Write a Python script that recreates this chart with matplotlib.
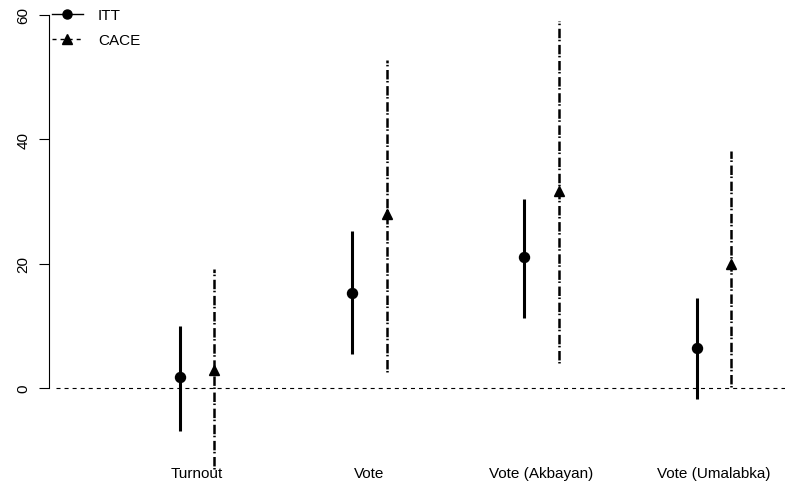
import numpy as np
import matplotlib
matplotlib.use("Agg")
import matplotlib.pyplot as plt
from matplotlib.lines import Line2D

plt.rcParams['font.family'] = ['Liberation Sans', 'DejaVu Sans']
plt.rcParams['lines.scale_dashes'] = False

# Estimates (percentage points) with 95% intervals
outcomes = ['Turnout', 'Vote', 'Vote (Akbayan)', 'Vote (Umalabka)']
itt_est = [1.7, 15.3, 21.0, 6.4]
itt_lo = [-6.9, 5.4, 11.2, -1.7]
itt_hi = [9.9, 25.3, 30.4, 14.5]
cace_est = [2.9, 28.0, 31.7, 19.9]
cace_lo = [-13.0, 2.5, 4.1, 0.1]
cace_hi = [19.1, 52.8, 59.0, 38.2]
yticks = [0, 20, 40, 60]

pos = np.arange(1, len(outcomes) + 1)
off = 0.1
dotdash = (0, (1.1, 1.1, 6.8, 2.6))
xmin, xmax = -0.1434, 4.4127
yaxis_x = 0.141

fig = plt.figure(figsize=(7.85, 4.89), dpi=100)
ax = fig.add_axes([0, 0, 1, 1])
ax.patch.set_visible(False)

# zero reference line, starting just right of the y axis
ax.hlines(0, yaxis_x + 0.04, xmax, color='black', lw=0.8,
          linestyles=[(0, (2.9, 2.9))], zorder=1)

# ITT: solid intervals with filled circles
ax.vlines(pos - off, itt_lo, itt_hi, color='black', lw=2.2, zorder=2)
ax.plot(pos - off, itt_est, 'o', color='black', ms=7.2, zorder=3)

# CACE: dot-dash intervals with filled triangles
ax.vlines(pos + off, cace_lo, cace_hi, color='black', lw=1.8,
          linestyles=[dotdash], zorder=2)
ax.plot(pos + off, cace_est, '^', color='black', ms=7.2, zorder=3)

for x, lab in zip(pos, outcomes):
    ax.text(x, -13.7, lab, ha='center', va='center', fontsize=11)

ax.set_xlim(xmin, xmax)
ax.set_ylim(-16.08, 62.57)

for s in ['top', 'right', 'bottom']:
    ax.spines[s].set_visible(False)
ax.spines['left'].set_position(('data', yaxis_x))
ax.spines['left'].set_bounds(0, 60)
ax.spines['left'].set_linewidth(0.8)
ax.set_xticks([])
ax.set_yticks(yticks)
ax.set_yticklabels([str(t) for t in yticks], rotation=90, va='center',
                   fontsize=11)
ax.tick_params(axis='y', length=7.2, width=0.8, pad=6)

handles = [
    Line2D([], [], color='black', lw=1.0, marker='o', ms=6.5),
    Line2D([], [], color='black', lw=1.0, ls=(0, (2.9, 2.9)), marker='^', ms=6.5),
]
ax.legend(handles, ['ITT', 'CACE'], loc='upper left',
          bbox_to_anchor=(52 / 785, 1 - 9 / 489), frameon=False,
          fontsize=11, handlelength=2.0, handletextpad=1.0,
          borderpad=0, borderaxespad=0, labelspacing=0.72)

fig.savefig('out.png', dpi=100)
